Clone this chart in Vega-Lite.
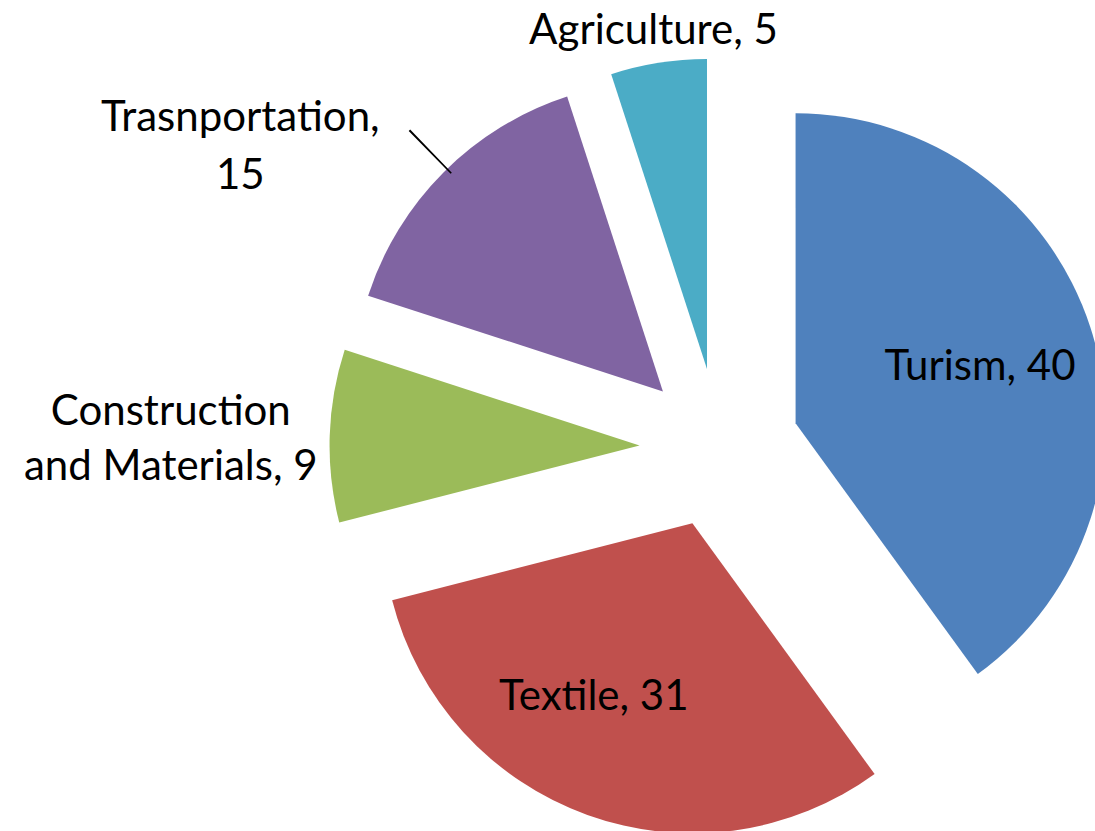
{
  "$schema": "https://vega.github.io/schema/vega-lite/v6.json",
  "width": 751,
  "height": 766,
  "autosize": {"type": "none"},
  "padding": {"left": 344, "top": 65, "right": 0, "bottom": 0},
  "background": "white",
  "config": {"view": {"stroke": null}, "text": {"font": "Lato", "fontSize": 42, "color": "#000000", "lineBreak": "\n", "lineHeight": 56}},
  "data": {"values": [
    {"sector": "Turism", "value": 40, "label": "Turism, 40"},
    {"sector": "Textile", "value": 31, "label": "Textile, 31"},
    {"sector": "Construction and Materials", "value": 9, "label": "Construction\nand Materials, 9"},
    {"sector": "Trasnportation", "value": 15, "label": "Trasnportation,\n15"},
    {"sector": "Agriculture", "value": 5, "label": "Agriculture, 5"}
  ]},
  "transform": [{"stack": "value", "groupby": [], "as": ["v0", "v1"]}],
  "encoding": {
    "theta": {"field": "value", "type": "quantitative", "stack": true, "scale": {"domain": [0, 100]}},
    "order": {"field": "v0", "type": "quantitative"}
  },
  "layer": [
    {
      "mark": {"type": "arc", "radius": 310,
        "xOffset": {"expr": "80*sin(PI*(datum.v0+datum.v1)/100)"},
        "yOffset": {"expr": "-80*cos(PI*(datum.v0+datum.v1)/100)"}},
      "encoding": {
        "color": {"field": "sector", "type": "nominal", "legend": null,
          "scale": {"domain": ["Turism", "Textile", "Construction and Materials", "Trasnportation", "Agriculture"],
                    "range": ["#4F81BD", "#C0504D", "#9BBB59", "#8064A2", "#4BACC6"]}}
      }
    },
    {
      "mark": {"type": "arc", "radius": 364, "radius2": 304, "fill": "#000000",
        "thetaOffset": {"expr": "PI*(datum.v1-datum.v0)/100 + 0.015 - 0.0028"},
        "theta2Offset": {"expr": "-PI*(datum.v1-datum.v0)/100 + 0.015 + 0.0028"},
        "xOffset": {"expr": "80*sin(PI*(datum.v0+datum.v1)/100)"},
        "yOffset": {"expr": "-80*cos(PI*(datum.v0+datum.v1)/100)"}},
      "encoding": {
        "theta": {"field": "v0", "type": "quantitative", "stack": null},
        "theta2": {"field": "v1"},
        "opacity": {"condition": {"test": "datum.sector === 'Trasnportation'", "value": 1}, "value": 0}
      }
    },
    {
      "mark": {"type": "text", "radius": 194, "align": "center", "baseline": "middle", "dy": 4,
        "xOffset": {"expr": "80*sin(PI*(datum.v0+datum.v1)/100)"},
        "yOffset": {"expr": "-80*cos(PI*(datum.v0+datum.v1)/100)"}},
      "encoding": {
        "text": {"condition": {"test": "datum.sector === 'Turism'", "field": "label", "type": "nominal"}, "value": ""}
      }
    },
    {
      "mark": {"type": "text", "radius": 200, "thetaOffset": 0.17, "align": "center", "baseline": "middle",
        "xOffset": {"expr": "80*sin(PI*(datum.v0+datum.v1)/100)"},
        "yOffset": {"expr": "-80*cos(PI*(datum.v0+datum.v1)/100)"}},
      "encoding": {
        "text": {"condition": {"test": "datum.sector === 'Textile'", "field": "label", "type": "nominal"}, "value": ""}
      }
    },
    {
      "mark": {"type": "text", "radius": 342, "align": "center", "baseline": "middle",
        "xOffset": {"expr": "80*sin(PI*(datum.v0+datum.v1)/100)"},
        "yOffset": {"expr": "-80*cos(PI*(datum.v0+datum.v1)/100)"}},
      "encoding": {
        "text": {"condition": {"test": "datum.sector === 'Agriculture'", "field": "label", "type": "nominal"}, "value": ""}
      }
    },
    {
      "mark": {"type": "text", "radius": 469, "align": "center", "baseline": "middle", "dy": -19, "lineHeight": 55,
        "xOffset": {"expr": "80*sin(PI*(datum.v0+datum.v1)/100)"},
        "yOffset": {"expr": "-80*cos(PI*(datum.v0+datum.v1)/100)"}},
      "encoding": {
        "text": {"condition": {"test": "datum.sector === 'Construction and Materials'", "field": "label", "type": "nominal"}, "value": ""}
      }
    },
    {
      "mark": {"type": "text", "radius": 488, "thetaOffset": -0.2618, "align": "center", "baseline": "middle", "dy": -29, "lineHeight": 58,
        "xOffset": {"expr": "80*sin(PI*(datum.v0+datum.v1)/100)"},
        "yOffset": {"expr": "-80*cos(PI*(datum.v0+datum.v1)/100)"}},
      "encoding": {
        "text": {"condition": {"test": "datum.sector === 'Trasnportation'", "field": "label", "type": "nominal"}, "value": ""}
      }
    }
  ]
}
